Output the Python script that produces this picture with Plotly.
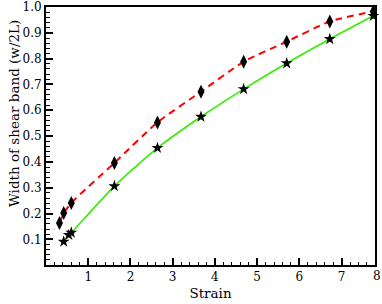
import plotly.graph_objects as go

# Data
strain_diamond = [0.32, 0.42, 0.60, 1.62, 2.64, 3.67, 4.68, 5.70, 6.72, 7.75]
width_diamond = [0.163, 0.202, 0.241, 0.396, 0.553, 0.672, 0.788, 0.866, 0.944, 0.983]

strain_star = [0.42, 0.54, 0.60, 1.62, 2.64, 3.67, 4.68, 5.70, 6.72, 7.75]
width_star = [0.091, 0.117, 0.126, 0.306, 0.454, 0.575, 0.682, 0.782, 0.876, 0.966]

x_end_label = "8"
x_title = "Strain"
y_title = "Width of shear band (w/2L)"

FONT = "DejaVu Serif"

fig = go.Figure()
fig.add_trace(go.Scatter(
    x=strain_diamond, y=width_diamond, mode="lines",
    line=dict(color="#ff0000", width=2, dash="7px,5px", shape="spline", smoothing=0.6),
    showlegend=False, hoverinfo="skip"))
fig.add_trace(go.Scatter(
    x=strain_star, y=width_star, mode="lines",
    line=dict(color="#33ee00", width=1.6, shape="spline", smoothing=0.6),
    showlegend=False, hoverinfo="skip"))
fig.add_trace(go.Scatter(
    x=strain_diamond, y=width_diamond, mode="markers",
    marker=dict(symbol="diamond-tall", size=10, color="black"),
    showlegend=False, cliponaxis=False))
fig.add_trace(go.Scatter(
    x=strain_star, y=width_star, mode="markers",
    marker=dict(symbol="star", size=9, color="black"),
    showlegend=False, cliponaxis=False))

fig.update_layout(
    width=382, height=304, autosize=False,
    margin=dict(l=46, r=7, t=7, b=39, autoexpand=False),
    paper_bgcolor="white", plot_bgcolor="white",
    font=dict(family=FONT, size=12, color="black"),
)
fig.update_xaxes(
    range=[0.001, 7.79], showgrid=False, zeroline=False,
    showline=True, linecolor="black", linewidth=2, mirror=True,
    tickmode="linear", tick0=0, dtick=1,
    ticks="inside", ticklen=7, tickwidth=1.5, tickcolor="black",
    tickfont=dict(family=FONT, size=12),
    minor=dict(dtick=0.2, ticks="inside", ticklen=3.5, tickwidth=1.2,
               tickcolor="black", showgrid=False),
    title=dict(text=x_title, font=dict(family=FONT, size=13.5), standoff=5),
)
fig.update_yaxes(
    range=[0.0005, 1.0002], showgrid=False, zeroline=False,
    showline=True, linecolor="black", linewidth=2, mirror=True,
    tickmode="linear", tick0=0, dtick=0.1, tickformat=".1f",
    ticks="inside", ticklen=7, tickwidth=1.5, tickcolor="black",
    tickfont=dict(family=FONT, size=12),
    minor=dict(dtick=0.02, ticks="inside", ticklen=3.5, tickwidth=1.2,
               tickcolor="black", showgrid=False),
)
fig.add_annotation(x=7.79, xref="x", y=0, yref="paper", yanchor="top", xanchor="center",
                   yshift=-2, xshift=2, text=x_end_label, showarrow=False,
                   font=dict(family=FONT, size=12, color="black"))
fig.add_annotation(x=0, xref="paper", y=0.585, yref="paper", xanchor="center", yanchor="middle",
                   xshift=-32, textangle=-90, text=y_title, showarrow=False,
                   font=dict(family=FONT, size=13.5, color="black"))

fig.write_html("out.html", config={"displayModeBar": False},
               post_script="document.body.style.margin='0px';")
